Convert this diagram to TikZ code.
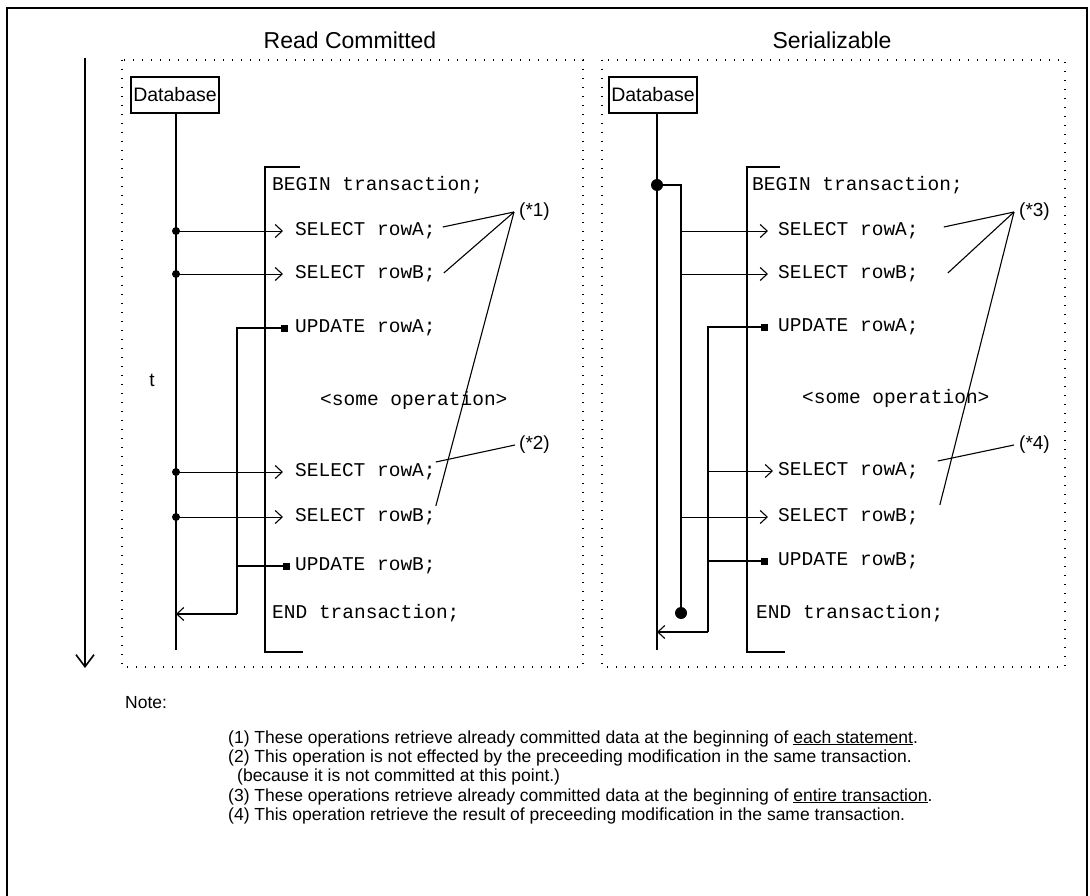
\documentclass[tikz,border=0pt]{standalone}
\usepackage{fontspec}
\setmainfont{Liberation Sans}
\newfontfamily\codefont{Liberation Mono}
\usetikzlibrary{arrows.meta,calc}
\begin{document}
\begin{tikzpicture}[x=1pt,y=-1pt,
  frame/.style={line width=1.8pt},
  panel/.style={line width=1.4pt, dash pattern=on 1.4pt off 7.6pt},
  title/.style={inner sep=0pt, font=\fontsize{23}{23}\selectfont},
  dbbox/.style={draw, line width=1.2pt, minimum width=88pt, minimum height=36pt, inner sep=0pt, font=\fontsize{19.5}{19.5}\selectfont},
  code/.style={anchor=west, inner sep=0pt, font=\codefont\fontsize{19.5}{19.5}\selectfont},
  life/.style={line width=2.6pt},
  snap/.style={line width=1.8pt},
  upd/.style={line width=1.4pt},
  bracket/.style={line width=1.2pt},
  call/.style={line width=0.9pt, -{Straight Barb[length=7pt,width=13pt,line width=1.1pt]}},
  back/.style={line width=1.4pt, -{Straight Barb[length=7pt,width=13pt,line width=1.1pt]}},
  ref/.style={line width=1.1pt},
  remark/.style={inner sep=0pt, font=\fontsize{19}{19}\selectfont},
  note/.style={anchor=base west, inner sep=0pt, font=\fontsize{17.5}{17.5}\selectfont},
  dot/.style={fill=black},
]
\useasboundingbox (0,0) rectangle (1090,896);

% outer frame, open at the bottom
\draw[frame] (7,896) -- (7,8) -- (1087,8) -- (1087,896);

% time axis
\coordinate (t0) at (85,58);
\coordinate (t1) at (85,668);
\draw[line width=2pt, -{Straight Barb[length=12pt,width=18pt,line width=1.6pt]}] (t0) -- (t1);
\node[remark] (tlab) at (152,380) {t};

% panels and titles
\draw[panel] (122,60) rectangle (583,667);
\draw[panel] (602,60) rectangle (1065,667);
\node[title] (rc) at (350,40) {Read Committed};
\node[title] (sz) at (832,40) {Serializable};

%% ---------------- Read Committed ----------------
\node[dbbox] (db1) at (175,95) {Database};
\coordinate (l1end) at (176,650);
\draw[life] (db1.south -| l1end) -- (l1end);

\draw[bracket] (300,167) -- (265,167) -- (265,652) -- (303,652);

\node[code] (b1)  at (272,185) {BEGIN transaction;};
\node[code] (s1a) at (295,231) {SELECT rowA;};
\node[code] (s1b) at (295,274) {SELECT rowB;};
\node[code] (u1a) at (295,328) {UPDATE rowA;};
\node[code] (o1)  at (320,400) {<some operation>};
\node[code] (s1c) at (295,472) {SELECT rowA;};
\node[code] (s1d) at (295,517) {SELECT rowB;};
\node[code] (u1b) at (295,566) {UPDATE rowB;};
\node[code] (e1)  at (272,613) {END transaction;};

% reads straight from the database
\foreach \n in {a,b,c,d}{
  \coordinate (r1\n) at (l1end |- s1\n.west);
  \fill[dot] (r1\n) circle (4pt);
  \draw[call] (r1\n) -- ($(s1\n.west)+(-12,0)$);
}

% uncommitted writes, flushed at the end
\coordinate (w1a) at (237,328);
\coordinate (w1b) at (237,566);
\coordinate (w1e) at (237,614);
\coordinate (l1e) at (176,614);
\coordinate (q1a) at ($(u1a.west)+(-11,0)$);
\coordinate (q1b) at ($(u1b.west)+(-9,0)$);
\draw[upd] (q1a) -- (w1a) -- (w1e);
\draw[upd] (w1b) -- (q1b);
\draw[back] (w1e) -- (l1e);
\fill (q1a) ++(-3.5,-3.5) rectangle ++(7,7);
\fill (q1b) ++(-3.5,-3.5) rectangle ++(7,7);

% remarks
\coordinate (p1) at (514,212);
\node[remark, anchor=west] (m1) at (519,212) {(*1)};
\draw[ref] (p1) -- ($(s1a.east)+(7,-4)$);
\draw[ref] (p1) -- ($(s1b.east)+(8,-1)$);
\draw[ref] (p1) -- ($(s1d.east)+(0,-11)$);
\coordinate (p2) at (515,445);
\node[remark, anchor=west] (m2) at (519,445) {(*2)};
\draw[ref] (p2) -- ($(s1c.east)+(0,-10)$);

%% ---------------- Serializable ----------------
\node[dbbox] (db2) at (653,95) {Database};
\coordinate (l2end) at (657,650);
\draw[life] (db2.south -| l2end) -- (l2end);

\draw[bracket] (780,167) -- (747,167) -- (747,652) -- (785,652);

\node[code] (b2)  at (752,185) {BEGIN transaction;};
\node[code] (s2a) at (778,231) {SELECT rowA;};
\node[code] (s2b) at (778,274) {SELECT rowB;};
\node[code] (u2a) at (778,327) {UPDATE rowA;};
\node[code] (o2)  at (802,398) {<some operation>};
\node[code] (s2c) at (778,471) {SELECT rowA;};
\node[code] (s2d) at (778,517) {SELECT rowB;};
\node[code] (u2b) at (778,561) {UPDATE rowB;};
\node[code] (e2)  at (756,613) {END transaction;};

% snapshot taken at the start of the transaction
\coordinate (sn0) at (657,185);
\coordinate (sn1) at (681,185);
\coordinate (sn2) at (681,613);
\draw[snap] (sn0) -- (sn1) -- (sn2);
\fill[dot] (sn0) circle (6pt);
\fill[dot] (sn2) circle (6pt);

\foreach \n in {a,b,d}{
  \coordinate (r2\n) at (sn1 |- s2\n.west);
  \draw[call] (r2\n) -- ($(s2\n.west)+(-10,0)$);
}

% own writes, visible to later reads
\coordinate (w2a) at (708,327);
\coordinate (w2c) at (708,471);
\coordinate (w2b) at (708,561);
\coordinate (w2e) at (708,632);
\coordinate (l2e) at (657,632);
\coordinate (q2a) at ($(u2a.west)+(-14,0)$);
\coordinate (q2b) at ($(u2b.west)+(-14,0)$);
\draw[upd] (q2a) -- (w2a) -- (w2e);
\draw[upd] (w2b) -- (q2b);
\draw[call] (w2c) -- ($(s2c.west)+(-5,0)$);
\draw[back] (w2e) -- (l2e);
\fill (q2a) ++(-3.5,-3.5) rectangle ++(7,7);
\fill (q2b) ++(-3.5,-3.5) rectangle ++(7,7);

% remarks
\coordinate (p3) at (1014,212);
\node[remark, anchor=west] (m3) at (1019,212) {(*3)};
\draw[ref] (p3) -- ($(s2a.east)+(25,-4)$);
\draw[ref] (p3) -- ($(s2b.east)+(29,-1)$);
\draw[ref] (p3) -- ($(s2d.east)+(21,-12)$);
\coordinate (p4) at (1014,445);
\node[remark, anchor=west] (m4) at (1019,445) {(*4)};
\draw[ref] (p4) -- ($(s2c.east)+(19,-10)$);

%% ---------------- notes ----------------
\node[note] (n0) at (125,708) {Note:};
\node[note] (n1) at (228,743) {(1) These operations retrieve already committed data at the beginning of \underline{each statement}.};
\node[note] (n2) at (228,762) {(2) This operation is not effected by the preceeding modification in the same transaction.};
\node[note] (n2b) at (237,781) {(because it is not committed at this point.)};
\node[note] (n3) at (228,801) {(3) These operations retrieve already committed data at the beginning of \underline{entire transaction}.};
\node[note] (n4) at (228,820) {(4) This operation retrieve the result of preceeding modification in the same transaction.};
\end{tikzpicture}
\end{document}
